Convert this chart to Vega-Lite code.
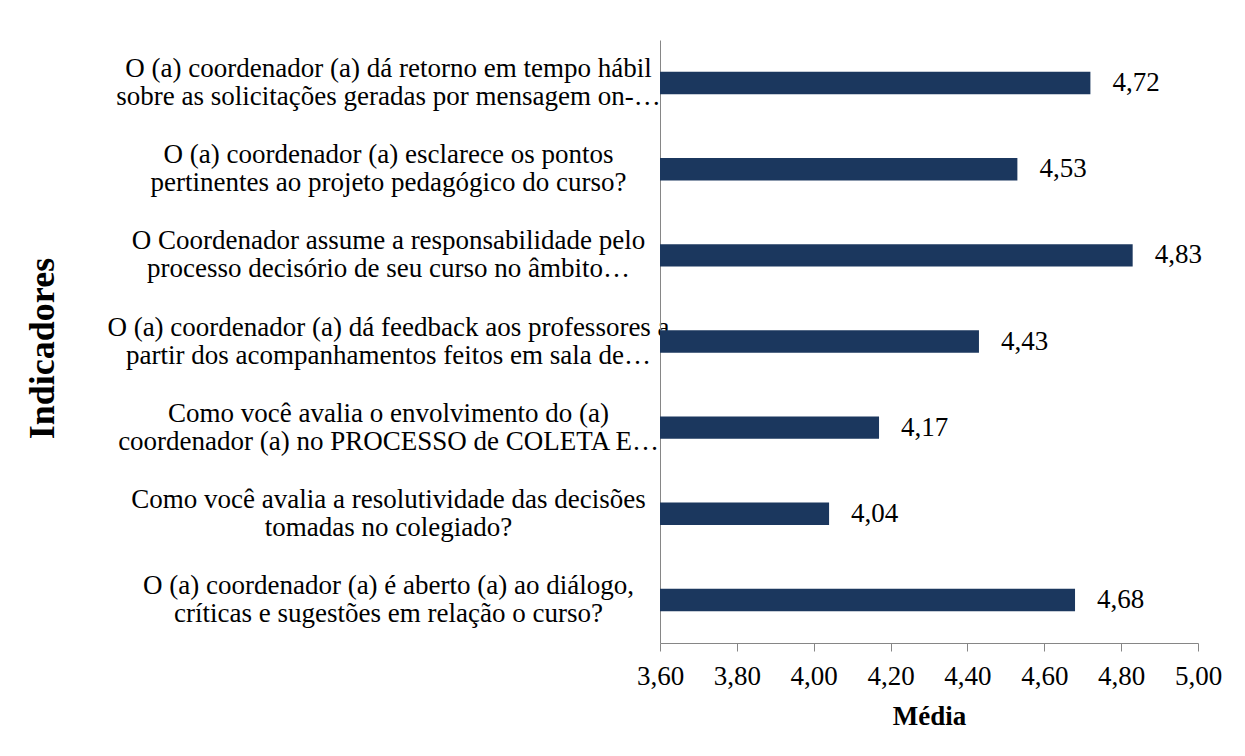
{
  "$schema": "https://vega.github.io/schema/vega-lite/v6.json",
  "autosize": {"type": "none"},
  "padding": {"left": 660, "top": 40, "right": 47, "bottom": 113},
  "width": 538,
  "height": 603,
  "background": "white",
  "config": {
    "locale": {"number": {"decimal": ",", "thousands": ".", "grouping": [3], "currency": ["R$", ""]}},
    "view": {"stroke": null},
    "font": "Liberation Serif"
  },
  "data": {
    "values": [
      {"indicador": "O (a) coordenador (a) dá retorno em tempo hábil|sobre as solicitações geradas por mensagem on-…", "media": 4.72},
      {"indicador": "O (a) coordenador (a) esclarece os pontos|pertinentes ao projeto pedagógico do curso?", "media": 4.53},
      {"indicador": "O Coordenador assume a responsabilidade pelo|processo decisório de seu curso no âmbito…", "media": 4.83},
      {"indicador": "O (a) coordenador (a) dá feedback aos professores a|partir dos acompanhamentos feitos  em sala de…", "media": 4.43},
      {"indicador": "Como você avalia o envolvimento do (a)|coordenador (a) no PROCESSO de COLETA E…", "media": 4.17},
      {"indicador": "Como você avalia a resolutividade das decisões|tomadas no colegiado?", "media": 4.04},
      {"indicador": "O (a) coordenador (a) é aberto (a) ao diálogo,|críticas e sugestões em relação o curso?", "media": 4.68}
    ]
  },
  "encoding": {
    "y": {
      "field": "indicador",
      "type": "nominal",
      "sort": null,
      "scale": {"paddingInner": 0.74, "paddingOuter": 0.37},
      "axis": {
        "title": "Indicadores",
        "titleFont": "Liberation Serif",
        "titleFontSize": 36,
        "titleFontWeight": "bold",
        "titleColor": "black",
        "titleX": -618,
        "titleY": 308,
        "titleAngle": -90,
        "titleAlign": "center",
        "titleBaseline": "middle",
        "labelExpr": "split(datum.value, '|')",
        "labelFont": "Liberation Serif",
        "labelFontSize": 27,
        "labelColor": "black",
        "labelAlign": "center",
        "labelBaseline": "middle",
        "labelLineHeight": 28,
        "labelOffset": -14,
        "labelPadding": 272,
        "labelLimit": 0,
        "ticks": false,
        "domainColor": "#868686",
        "domainWidth": 1,
        "grid": false
      }
    }
  },
  "layer": [
    {
      "mark": {"type": "bar", "color": "#1B375E"},
      "encoding": {
        "x": {
          "field": "media",
          "type": "quantitative",
          "scale": {"domain": [3.6, 5.0], "zero": false, "nice": false},
          "axis": {
            "title": "Média",
            "titleFont": "Liberation Serif",
            "titleFontSize": 27,
            "titleFontWeight": "bold",
            "titleColor": "black",
            "titleY": 73,
            "titleBaseline": "middle",
            "values": [3.6, 3.8, 4.0, 4.2, 4.4, 4.6, 4.8, 5.0],
            "format": ".2f",
            "labelFont": "Liberation Serif",
            "labelFontSize": 27,
            "labelColor": "black",
            "labelPadding": 12,
            "labelFlush": false,
            "labelOverlap": false,
            "tickColor": "#868686",
            "tickSize": 8,
            "domainColor": "#868686",
            "grid": false
          }
        },
        "x2": {"datum": 3.6}
      }
    },
    {
      "mark": {"type": "text", "align": "left", "baseline": "middle", "dx": 22, "fontSize": 27, "font": "Liberation Serif", "color": "black"},
      "encoding": {
        "x": {"field": "media", "type": "quantitative"},
        "text": {"field": "media", "type": "quantitative", "format": ".2f"}
      }
    }
  ]
}
